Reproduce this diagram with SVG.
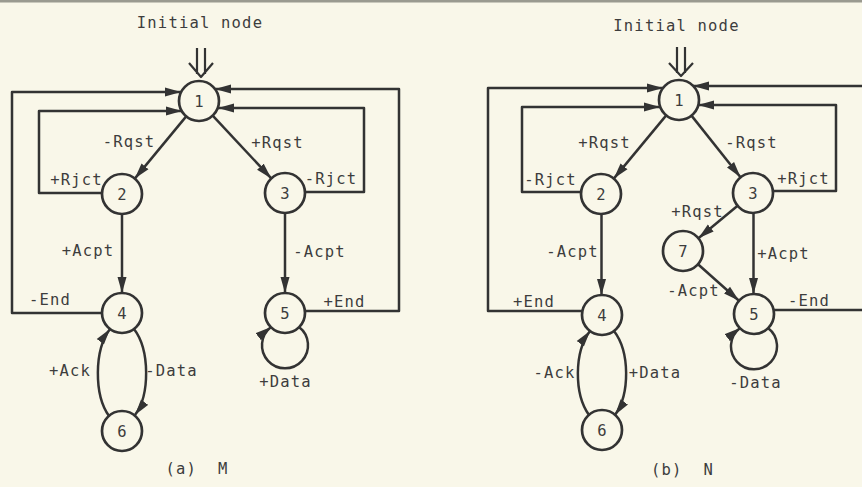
<svg xmlns="http://www.w3.org/2000/svg" width="862" height="487" viewBox="0 0 862 487">
<defs>
<style>
.n circle{fill:none;stroke:#333;stroke-width:2.7}
.t{font-family:"DejaVu Sans Mono","Liberation Mono",monospace;font-size:15.5px;fill:#3d3d3d;text-anchor:middle;letter-spacing:1.2px}
.e{fill:none;stroke:#333;stroke-width:2.5;stroke-linejoin:round;marker-end:url(#ah)}
.p{fill:none;stroke:#333;stroke-width:2.2;stroke-linejoin:round}
</style>
<marker id="ah" markerUnits="userSpaceOnUse" markerWidth="17" markerHeight="10" refX="16" refY="5" orient="auto"><path d="M0,0.5 L16,5 L0,9.5 z" fill="#333"/></marker>
</defs>
<rect x="0" y="0" width="862" height="487" fill="#f9f7e9"/>
<rect x="0" y="0" width="862" height="2.5" fill="#9a9a90"/>

<!-- (a) M -->
<g id="a-labels" class="t">
<text x="200" y="28">Initial node</text>
<text x="129" y="147">-Rqst</text>
<text x="277.5" y="148">+Rqst</text>
<text x="76.5" y="185">+Rjct</text>
<text x="331" y="184">-Rjct</text>
<text x="88" y="256">+Acpt</text>
<text x="319.5" y="257">-Acpt</text>
<text x="50" y="305">-End</text>
<text x="344.5" y="307">+End</text>
<text x="70" y="376">+Ack</text>
<text x="171.5" y="376">-Data</text>
<text x="285.5" y="387">+Data</text>
<text x="197" y="474" xml:space="preserve">(a)  M</text>
</g>
<g id="a-connectors">
<path class="p" d="M197 48 V74 M205 48 V74 M189 63 L201 77 L213 63"/>
<path class="e" d="M102 313 H12 V92 H181"/>
<path class="e" d="M102 193 H39 V111 H182"/>
<path class="e" d="M305 192 H364 V108 H218"/>
<path class="e" d="M305 311 H399 V89 H215"/>
<path class="e" d="M186.2 116.4 L134.8 178.6"/>
<path class="e" d="M212.7 115.6 L271.3 178.4"/>
<path class="e" d="M122 214 V293"/>
<path class="e" d="M285 213 V293"/>
<path class="e" d="M134 329 C150 350 150 395 135 415"/>
<path class="e" d="M109 416 C94 395 94 350 110 329"/>
<path class="e" d="M299 327 A23 23 0 1 1 271 327"/>
</g>
<g id="a1" class="n"><circle cx="199" cy="101" r="20"/><text class="t" x="199.6" y="106.5">1</text></g>
<g id="a2" class="n"><circle cx="122" cy="194" r="20"/><text class="t" x="122.6" y="199.5">2</text></g>
<g id="a3" class="n"><circle cx="285" cy="193" r="20"/><text class="t" x="285.6" y="198.5">3</text></g>
<g id="a4" class="n"><circle cx="122" cy="313" r="20"/><text class="t" x="122.6" y="318.5">4</text></g>
<g id="a5" class="n"><circle cx="285" cy="313" r="20"/><text class="t" x="285.6" y="318.5">5</text></g>
<g id="a6" class="n"><circle cx="122" cy="431" r="20"/><text class="t" x="122.6" y="436.5">6</text></g>

<!-- (b) N -->
<g id="b-labels" class="t">
<text x="676.5" y="31">Initial node</text>
<text x="604.5" y="148">+Rqst</text>
<text x="751.5" y="148">-Rqst</text>
<text x="550.5" y="185">-Rjct</text>
<text x="803.5" y="184">+Rjct</text>
<text x="697.5" y="217">+Rqst</text>
<text x="572.5" y="257">-Acpt</text>
<text x="783.5" y="259">+Acpt</text>
<text x="693.5" y="296">-Acpt</text>
<text x="534" y="307">+End</text>
<text x="809" y="306">-End</text>
<text x="554.5" y="378">-Ack</text>
<text x="655" y="378">+Data</text>
<text x="755.5" y="388">-Data</text>
<text x="682.5" y="475" xml:space="preserve">(b)  N</text>
</g>
<g id="b-connectors">
<path class="p" d="M677 47 V73 M685 47 V73 M669 63 L681 76 L693 63"/>
<path class="e" d="M582 311 H488 V88 H663"/>
<path class="e" d="M581 192 H522 V107 H660"/>
<path class="e" d="M773 191 H836 V105 H698"/>
<path class="e" d="M774 310 H868 V86 H693"/>
<path class="e" d="M666.2 115.4 L613.8 178.6"/>
<path class="e" d="M691.5 115.6 L740.5 177.3"/>
<path class="e" d="M737.6 205.8 L698.4 238.2"/>
<path class="e" d="M698 264.3 L739 300.7"/>
<path class="e" d="M601.5 214 V295"/>
<path class="e" d="M753.5 213 V294"/>
<path class="e" d="M614 331 C630 352 630 394 615 415"/>
<path class="e" d="M589 415 C574 394 574 352 590 331"/>
<path class="e" d="M768 328 A23 23 0 1 1 740 328"/>
</g>
<g id="b1" class="n"><circle cx="679" cy="100" r="20"/><text class="t" x="679.6" y="105.5">1</text></g>
<g id="b2" class="n"><circle cx="601" cy="194" r="20"/><text class="t" x="601.6" y="199.5">2</text></g>
<g id="b3" class="n"><circle cx="753" cy="193" r="20"/><text class="t" x="753.6" y="198.5">3</text></g>
<g id="b7" class="n"><circle cx="683" cy="251" r="20"/><text class="t" x="683.6" y="256.5">7</text></g>
<g id="b4" class="n"><circle cx="602" cy="315" r="20"/><text class="t" x="602.6" y="320.5">4</text></g>
<g id="b5" class="n"><circle cx="754" cy="314" r="20"/><text class="t" x="754.6" y="319.5">5</text></g>
<g id="b6" class="n"><circle cx="602" cy="430" r="20"/><text class="t" x="602.6" y="435.5">6</text></g>
</svg>
